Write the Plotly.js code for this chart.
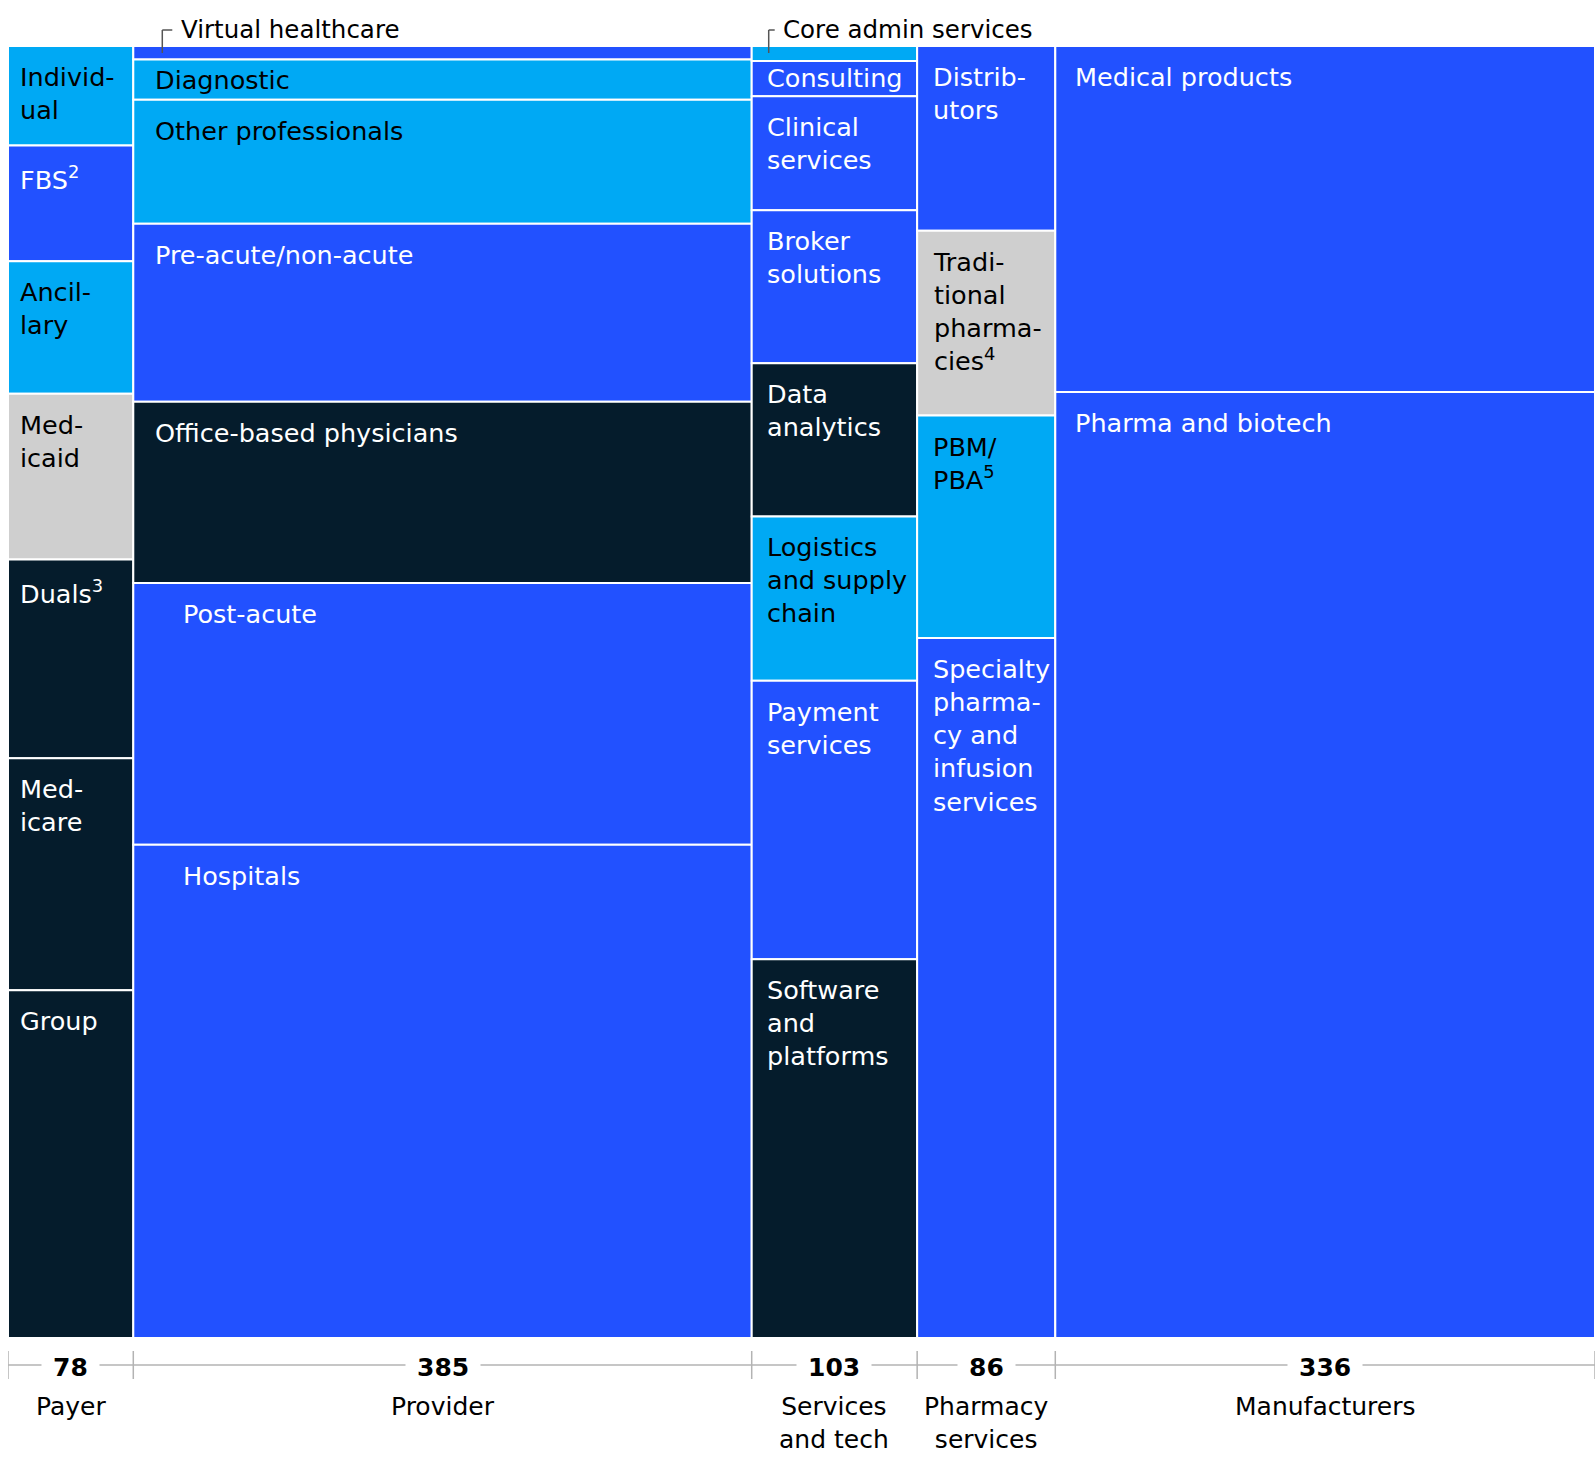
<!DOCTYPE html>
<html>
<head>
<meta charset="utf-8">
<script src="https://cdn.plot.ly/plotly-3.0.1.min.js"></script>
<style>
  html, body { margin: 0; padding: 0; background: #ffffff; }
  #chart { width: 1596px; height: 1458px; }
</style>
</head>
<body>
<div id="chart"></div>
<script>
// ---------- DATA ($ billions) ----------
const columnNames  = ['Payer', 'Provider', 'Services<br>and tech', 'Pharmacy<br>services', 'Manufacturers'];
const columnTotals = [78, 385, 103, 86, 336];

const payerSegments = ['Individual', 'FBS', 'Ancillary', 'Medicaid', 'Duals', 'Medicare', 'Group'];
const payerLabels   = ['Individ-<br>ual', 'FBS<sup>2</sup>', 'Ancil-<br>lary', 'Med-<br>icaid', 'Duals<sup>3</sup>', 'Med-<br>icare', 'Group'];
const payerValues   = [6, 7, 8, 10, 12, 14, 21];

const providerSegments = ['Virtual healthcare', 'Diagnostic', 'Other professionals', 'Pre-acute/non-acute', 'Office-based physicians', 'Post-acute', 'Hospitals'];
const providerLabels   = ['', 'Diagnostic', 'Other professionals', 'Pre-acute/non-acute', 'Office-based physicians', 'Post-acute', 'Hospitals'];
const providerValues   = [4, 12, 37, 53, 54, 78, 147];

const servicesSegments = ['Core admin services', 'Consulting', 'Clinical services', 'Broker solutions', 'Data analytics', 'Logistics and supply chain', 'Payment services', 'Software and platforms'];
const servicesLabels   = ['', 'Consulting', 'Clinical<br>services', 'Broker<br>solutions', 'Data<br>analytics', 'Logistics<br>and supply<br>chain', 'Payment<br>services', 'Software<br>and<br>platforms'];
const servicesValues   = [1.2, 2.8, 9.1, 12.2, 12.2, 13.1, 22.2, 30.2];

const pharmacySegments = ['Distributors', 'Traditional pharmacies', 'PBM/PBA', 'Specialty pharmacy and infusion services'];
const pharmacyLabels   = ['Distrib-<br>utors', 'Tradi-<br>tional<br>pharma-<br>cies<sup>4</sup>', 'PBM/<br>PBA<sup>5</sup>', 'Specialty<br>pharma-<br>cy and<br>infusion<br>services'];
const pharmacyValues   = [12.3, 12.3, 14.8, 46.6];

const manufacturerSegments = ['Medical products', 'Pharma and biotech'];
const manufacturerLabels   = ['Medical products', 'Pharma and biotech'];
const manufacturerValues   = [90, 246];

const callouts = ['Virtual healthcare', 'Core admin services'];

// ---------- STYLE ----------
const BLUE = '#2251FF', LIGHT = '#00A9F4', NAVY = '#051C2C', GRAY = '#CFCFCF';
const payerColors        = [LIGHT, BLUE, LIGHT, GRAY, NAVY, NAVY, NAVY];
const providerColors     = [BLUE, LIGHT, LIGHT, BLUE, NAVY, BLUE, BLUE];
const servicesColors     = [LIGHT, BLUE, BLUE, BLUE, NAVY, LIGHT, BLUE, NAVY];
const pharmacyColors     = [BLUE, GRAY, LIGHT, BLUE];
const manufacturerColors = [BLUE, BLUE];

const FONT = 'DejaVu Sans, Arial, sans-serif';
const LABEL_SIZE = 25.5;
const colTextShift = [10, 19.5, 13.5, 13.5, 17.5];   // px from column left edge
const labelXOverride = { 'Post-acute': 47.5, 'Hospitals': 47.5 };
const labelYOverride = { 'Diagnostic': -4, 'Consulting': 0 };
const DEFAULT_YSHIFT = -14;

const columns = [
  { labels: payerLabels, names: payerSegments, values: payerValues, colors: payerColors },
  { labels: providerLabels, names: providerSegments, values: providerValues, colors: providerColors },
  { labels: servicesLabels, names: servicesSegments, values: servicesValues, colors: servicesColors },
  { labels: pharmacyLabels, names: pharmacySegments, values: pharmacyValues, colors: pharmacyColors },
  { labels: manufacturerLabels, names: manufacturerSegments, values: manufacturerValues, colors: manufacturerColors }
];

const grandTotal = columnTotals.reduce((a, b) => a + b, 0);

// ---------- BUILD ----------
const bx = [], bw = [], bbase = [], by = [], bcol = [], btxt = [];
const annotations = [];
const shapes = [];
const colLeft = [];
let cumX = 0;
columns.forEach((col, ci) => {
  const total = col.values.reduce((a, b) => a + b, 0);
  const w = columnTotals[ci];
  colLeft.push(cumX);
  let cumY = 0;
  col.values.forEach((v, si) => {
    const pct = v / total * 100;
    bx.push(cumX + w / 2);
    bw.push(w);
    bbase.push(cumY);
    by.push(pct);
    bcol.push(col.colors[si]);
    btxt.push(col.names[si]);
    if (col.labels[si]) {
      const dark = (col.colors[si] === LIGHT || col.colors[si] === GRAY);
      const nm = col.names[si];
      annotations.push({
        x: cumX, y: cumY, xref: 'x', yref: 'y',
        xanchor: 'left', yanchor: 'top', align: 'left',
        xshift: (labelXOverride[nm] !== undefined ? labelXOverride[nm] : colTextShift[ci]),
        yshift: (labelYOverride[nm] !== undefined ? labelYOverride[nm] : DEFAULT_YSHIFT),
        text: col.labels[si], showarrow: false,
        font: { family: FONT, size: LABEL_SIZE, color: dark ? '#000000' : '#ffffff' }
      });
    }
    cumY += pct;
  });
  // bottom totals
  annotations.push({
    x: cumX + w / 2, y: 0, xref: 'x', yref: 'paper',
    xanchor: 'center', yanchor: 'middle', yshift: -29,
    text: '<b>' + columnTotals[ci] + '</b>', showarrow: false,
    bgcolor: '#ffffff', borderpad: 11,
    font: { family: FONT, size: 25, color: '#000000' }
  });
  annotations.push({
    x: cumX + w / 2, y: 0, xref: 'x', yref: 'paper',
    xanchor: 'center', yanchor: 'top', yshift: -52, align: 'center',
    text: columnNames[ci], showarrow: false,
    font: { family: FONT, size: 25, color: '#000000' }
  });
  cumX += w;
});

// axis line + ticks under the chart
shapes.push({
  type: 'line', xref: 'x', yref: 'paper', ysizemode: 'pixel', yanchor: 0,
  x0: 0, x1: grandTotal, y0: -27, y1: -27,
  line: { color: '#b3b3b3', width: 1.5 }, layer: 'below'
});
const boundaries = colLeft.concat([grandTotal]);
boundaries.forEach((bxv) => {
  shapes.push({
    type: 'line', xref: 'x', yref: 'paper', ysizemode: 'pixel', yanchor: 0,
    x0: bxv, x1: bxv, y0: -13, y1: -41,
    line: { color: '#b3b3b3', width: 1.5 }, layer: 'above'
  });
});

// callouts (Virtual healthcare / Core admin services)
const calloutCols = [1, 2];
const calloutGeom = [ { vx: 29, hx: 39, tx: 45.5 }, { vx: 17, hx: 23, tx: 29.5 } ];
callouts.forEach((txt, i) => {
  const left = colLeft[calloutCols[i]];
  const g = calloutGeom[i];
  shapes.push({
    type: 'line', xref: 'x', yref: 'paper', xsizemode: 'pixel', ysizemode: 'pixel',
    xanchor: left, yanchor: 1, x0: g.vx, x1: g.vx, y0: -7, y1: 16,
    line: { color: '#555555', width: 1.5 }
  });
  shapes.push({
    type: 'line', xref: 'x', yref: 'paper', xsizemode: 'pixel', ysizemode: 'pixel',
    xanchor: left, yanchor: 1, x0: g.vx, x1: g.hx, y0: 16, y1: 16,
    line: { color: '#555555', width: 1.5 }
  });
  annotations.push({
    x: left, y: 1, xref: 'x', yref: 'paper', xanchor: 'left', yanchor: 'middle',
    xshift: g.tx, yshift: 17, text: txt, showarrow: false,
    font: { family: FONT, size: 24.5, color: '#000000' }
  });
});

const trace = {
  type: 'bar', x: bx, y: by, base: bbase, width: bw,
  marker: { color: bcol, line: { color: '#ffffff', width: 2 } },
  text: btxt, textposition: 'none', hoverinfo: 'text'
};

const layout = {
  width: 1596, height: 1458,
  margin: { l: 8, r: 1, t: 46, b: 120, pad: 0 },
  paper_bgcolor: '#ffffff', plot_bgcolor: '#ffffff',
  showlegend: false, barmode: 'overlay', bargap: 0,
  xaxis: { range: [0, grandTotal], showgrid: false, zeroline: false, showticklabels: false, ticks: '', showline: false, fixedrange: true },
  yaxis: { range: [100, 0], showgrid: false, zeroline: false, showticklabels: false, ticks: '', showline: false, fixedrange: true },
  annotations: annotations,
  shapes: shapes,
  font: { family: FONT }
};

Plotly.newPlot('chart', [trace], layout, { displayModeBar: false, staticPlot: true });
</script>
</body>
</html>
